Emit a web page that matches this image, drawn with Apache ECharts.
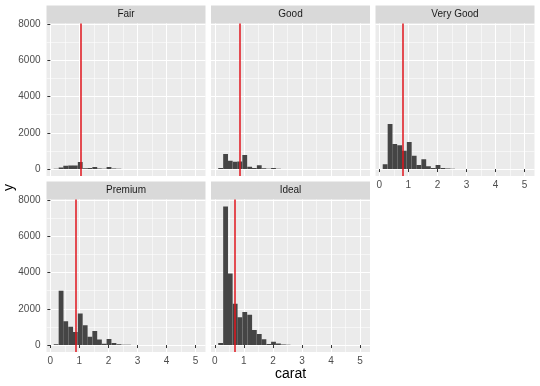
<!DOCTYPE html>
<html><head><meta charset="utf-8">
<script src="https://cdn.jsdelivr.net/npm/echarts@6/dist/echarts.min.js"></script>
<style>html,body{margin:0;padding:0;background:#fff}#c{width:540px;height:386px}</style>
</head><body><div id="c"></div>
<script>
// ---- data ----
const cuts = ['Fair', 'Good', 'Very Good', 'Premium', 'Ideal'];
const binCenters = [0.20, 0.37, 0.53, 0.70, 0.86, 1.03, 1.20, 1.36, 1.53, 1.69, 1.86, 2.02, 2.19, 2.36, 2.52, 2.69, 2.85, 3.02];
const binWidth = 0.166;
const fairCounts     = [20, 90, 185, 200, 200, 385, 45, 55, 110, 35, 15, 110, 30, 15, 8, 5, 3, 2];
const goodCounts     = [55, 830, 455, 400, 420, 770, 130, 60, 205, 45, 20, 65, 20, 10, 5, 3, 2, 1];
const veryGoodCounts = [260, 2480, 1380, 1320, 1010, 1500, 735, 220, 535, 150, 60, 220, 60, 25, 15, 8, 4, 2];
const premiumCounts  = [40, 3000, 1320, 1010, 720, 1740, 1100, 460, 770, 300, 70, 330, 110, 40, 20, 12, 6, 3];
const idealCounts    = [110, 7650, 3955, 2280, 1530, 1820, 1670, 830, 607, 314, 55, 184, 92, 30, 15, 8, 4, 2];
const meanCarat = [1.046, 0.849, 0.806, 0.892, 0.703];
const xTicks = [0, 1, 2, 3, 4, 5];
const yTicks = [0, 2000, 4000, 6000, 8000];
const xLimits = [-0.132, 5.342];
const yLimits = [-383, 8033];

const counts = [fairCounts, goodCounts, veryGoodCounts, premiumCounts, idealCounts];

// ---- layout ----
const FONT = 'Liberation Sans, Arial, Helvetica, sans-serif';
const W = 159, H = 152.5, STRIP = 18;
const panels = [
  {l: 46.5, t: 23.5, sx: false, sy: true},
  {l: 211, t: 23.5, sx: false, sy: false},
  {l: 375.5, t: 23.5, sx: true, sy: false},
  {l: 46.5, t: 199.5, sx: true, sy: true},
  {l: 211, t: 199.5, sx: true, sy: false}
];

const chart = echarts.init(document.getElementById('c'), null, {renderer: 'canvas'});
const grids = [], xAxes = [], yAxes = [], series = [], graphics = [];

panels.forEach((p, i) => {
  grids.push({left: p.l, top: p.t, width: W, height: H, show: true,
    backgroundColor: '#EBEBEB', borderWidth: 0, containLabel: false});
  const common = (ticks, show, isX) => ({
    gridIndex: i, type: 'value',
    axisLine: {show: false},
    axisTick: {show: show, customValues: ticks, length: 3, lineStyle: {color: '#333333', width: 1}},
    axisLabel: {show: show, customValues: ticks, color: '#4D4D4D', fontSize: 10, fontFamily: FONT,
      margin: isX ? 4 : 6, formatter: v => String(v)},
    splitLine: {show: true, lineStyle: {color: '#FFFFFF', width: 1.1}},
    minorTick: {show: false, splitNumber: 2},
    minorSplitLine: {show: true, lineStyle: {color: '#FFFFFF', width: 0.55}}
  });
  xAxes.push(Object.assign(common(xTicks, p.sx, true), {min: xLimits[0], max: xLimits[1], splitNumber: 5}));
  yAxes.push(Object.assign(common(yTicks, p.sy, false), {min: yLimits[0], max: yLimits[1], splitNumber: 4}));

  series.push({
    type: 'custom', xAxisIndex: i, yAxisIndex: i, z: 2, clip: true,
    data: counts[i].map((n, k) => [binCenters[k], n]),
    renderItem: (params, api) => {
      const c = api.value(0), n = api.value(1);
      if (!n) return null;
      const p0 = api.coord([c - binWidth / 2, 0]);
      const p1 = api.coord([c + binWidth / 2, n]);
      return {type: 'rect', shape: {x: p0[0], y: p1[1], width: p1[0] - p0[0], height: p0[1] - p1[1]},
        style: {fill: '#454545'}};
    },
    markLine: {
      silent: true, symbol: 'none', animation: false,
      label: {show: false},
      lineStyle: {color: '#E0161E', width: 1.5, type: 'solid'},
      data: [{xAxis: meanCarat[i]}]
    }
  });

  graphics.push({type: 'rect', shape: {x: p.l, y: p.t - STRIP, width: W, height: STRIP},
    style: {fill: '#D9D9D9'}, silent: true});
  graphics.push({type: 'text', x: p.l + W / 2, y: p.t - STRIP / 2,
    style: {text: cuts[i], align: 'center', verticalAlign: 'middle', fontSize: 10, fontFamily: FONT, fill: '#1A1A1A'},
    silent: true});
});

graphics.push({type: 'text', x: 290.5, y: 374,
  style: {text: 'carat', align: 'center', verticalAlign: 'middle', fontSize: 14, fontFamily: FONT, fill: '#000000'}});
graphics.push({type: 'text', x: 9, y: 187.5, rotation: Math.PI / 2,
  style: {text: 'y', align: 'center', verticalAlign: 'middle', fontSize: 14, fontFamily: FONT, fill: '#000000'}});

chart.setOption({
  animation: false,
  backgroundColor: '#FFFFFF',
  grid: grids, xAxis: xAxes, yAxis: yAxes, series: series, graphic: graphics
});
</script></body></html>
